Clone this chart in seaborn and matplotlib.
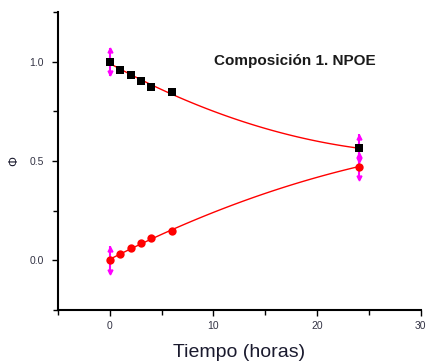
import numpy as np
import pandas as pd
import matplotlib
matplotlib.use("Agg")
import matplotlib.pyplot as plt
import seaborn as sns
from matplotlib.ticker import MultipleLocator

# Data
tiempo = [0, 1, 2, 3, 4, 6, 24]
phi_cuadrados = [1.0, 0.96, 0.935, 0.90, 0.874, 0.849, 0.564]
phi_circulos = [0.0, 0.032, 0.06, 0.085, 0.114, 0.146, 0.472]
err_t = [0, 0, 24, 24]
err_y = [1.0, 0.0, 0.564, 0.472]
err_val = [0.07, 0.07, 0.07, 0.07]

titulo = "Composición 1. NPOE"
xlabel = "Tiempo (horas)"
ylabel = "Φ"

sns.set_style("ticks")
plt.rcParams['font.family'] = ['Liberation Sans', 'DejaVu Sans']

df = pd.DataFrame({"t": tiempo, "sq": phi_cuadrados, "ci": phi_circulos})

fig = plt.figure(figsize=(4.26, 3.62), dpi=100)
ax = fig.add_axes([0.136, 0.1436, 0.852, 0.8234])

# fit lines
sns.regplot(data=df, x="t", y="sq", order=2, ci=None, scatter=False, truncate=True,
            line_kws=dict(color="#ff0000", lw=1.0, zorder=2), ax=ax)
sns.regplot(data=df, x="t", y="ci", order=2, ci=None, scatter=False, truncate=True,
            line_kws=dict(color="#ff0000", lw=1.0, zorder=2), ax=ax)

# error bars (magenta with arrow heads)
ax.errorbar(err_t, err_y, yerr=err_val, fmt='none', ecolor="#ff00ff", elinewidth=1.5,
            capsize=0, zorder=3)
ey = np.array(err_y)
ev = np.array(err_val)
ax.plot(err_t, ey + ev - 0.012, linestyle='none', marker='^', color="#ff00ff", ms=3.5, zorder=3)
ax.plot(err_t, ey - ev + 0.012, linestyle='none', marker='v', color="#ff00ff", ms=3.5, zorder=3)

# markers
sns.scatterplot(data=df, x="t", y="sq", marker='s', color="black", s=36,
                edgecolor="black", linewidth=0, ax=ax, zorder=4)
sns.scatterplot(data=df, x="t", y="ci", marker='o', color="#ff0000", s=36,
                edgecolor="#ff0000", linewidth=0, ax=ax, zorder=4)

ax.set_xlim(-5, 30)
ax.set_ylim(-0.25, 1.25)
ax.xaxis.set_major_locator(MultipleLocator(10))
ax.xaxis.set_minor_locator(MultipleLocator(5))
ax.yaxis.set_major_locator(MultipleLocator(0.5))
ax.yaxis.set_minor_locator(MultipleLocator(0.25))
ax.tick_params(which='both', direction='out', width=1.0, color='black')
ax.tick_params(which='major', length=4)
ax.tick_params(which='minor', length=3.5)
ax.tick_params(axis='x', pad=4, labelsize=7.5, labelcolor='#333344')
ax.tick_params(axis='y', pad=6, labelsize=7.5, labelcolor='#333344')

for s in ['top', 'right']:
    ax.spines[s].set_visible(False)
for s in ['left', 'bottom']:
    ax.spines[s].set_linewidth(1.5)
    ax.spines[s].set_color('black')

ax.set_xlabel(xlabel, fontsize=14, color='#1a1a2e', labelpad=9)
ax.set_ylabel(ylabel, fontsize=9, color='#1a1a2e', labelpad=7)

ax.text(0.653, 0.835, titulo, transform=ax.transAxes, ha='center', va='center',
        fontsize=11, fontweight='bold', color='#1a1a1a')

fig.savefig("out.png", dpi=100)
